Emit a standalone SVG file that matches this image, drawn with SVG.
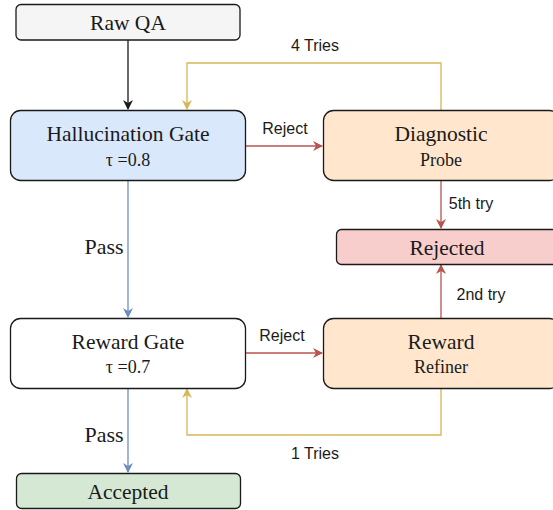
<svg xmlns="http://www.w3.org/2000/svg" width="553" height="510" viewBox="0 0 553 510">
  <defs>
    <style>
      .node { stroke: #1a1a1a; stroke-width: 1.3; }
      .t1 { font-family: "Liberation Serif", serif; font-size: 21.5px; fill: #1a1a1a; text-anchor: middle; }
      .t2 { font-family: "Liberation Serif", serif; font-size: 18px; fill: #1a1a1a; text-anchor: middle; }
      .lbl { font-family: "Liberation Sans", sans-serif; font-size: 16px; fill: #1a1a1a; text-anchor: middle; }
      .lbls { font-family: "Liberation Serif", serif; font-size: 22px; fill: #1a1a1a; text-anchor: middle; }
      .edge { fill: none; stroke-width: 1.3; }
      .black { stroke: #1a1a1a; }
      .red { stroke: #b85450; }
      .blue { stroke: #6c8ebf; }
      .gold { stroke: #d6b656; }
    </style>
    <marker id="ah-black" viewBox="0 0 10 10" refX="9" refY="5" markerWidth="10" markerHeight="10" markerUnits="userSpaceOnUse" orient="auto">
      <path d="M0,0 L10,5 L0,10 L3,5 Z" fill="#1a1a1a"/>
    </marker>
    <marker id="ah-red" viewBox="0 0 10 10" refX="9" refY="5" markerWidth="10" markerHeight="10" markerUnits="userSpaceOnUse" orient="auto">
      <path d="M0,0 L10,5 L0,10 L3,5 Z" fill="#b85450"/>
    </marker>
    <marker id="ah-blue" viewBox="0 0 10 10" refX="9" refY="5" markerWidth="10" markerHeight="10" markerUnits="userSpaceOnUse" orient="auto">
      <path d="M0,0 L10,5 L0,10 L3,5 Z" fill="#6c8ebf"/>
    </marker>
    <marker id="ah-gold" viewBox="0 0 10 10" refX="9" refY="5" markerWidth="10" markerHeight="10" markerUnits="userSpaceOnUse" orient="auto">
      <path d="M0,0 L10,5 L0,10 L3,5 Z" fill="#d6b656"/>
    </marker>
  </defs>

  <rect width="553" height="510" fill="#ffffff"/>

  <!-- connectors -->
  <g id="connectors">
    <path class="edge black" d="M128,40 V109" marker-end="url(#ah-black)"/>
    <path class="edge gold" d="M441,110 V63 H187 V109" marker-end="url(#ah-gold)"/>
    <text class="lbl" x="315" y="51">4 Tries</text>
    <path class="edge red" d="M246,146 H322" marker-end="url(#ah-red)"/>
    <text class="lbl" x="285" y="134">Reject</text>
    <path class="edge red" d="M441,181 V228" marker-end="url(#ah-red)"/>
    <text class="lbl" x="471" y="209">5th try</text>
    <path class="edge blue" d="M128,181 V317" marker-end="url(#ah-blue)"/>
    <text class="lbls" x="104" y="254">Pass</text>
    <path class="edge red" d="M246,353 H322" marker-end="url(#ah-red)"/>
    <text class="lbl" x="282" y="341">Reject</text>
    <path class="edge red" d="M441,318 V265" marker-end="url(#ah-red)"/>
    <text class="lbl" x="481" y="300">2nd try</text>
    <path class="edge gold" d="M441,388 V435 H187 V389" marker-end="url(#ah-gold)"/>
    <text class="lbl" x="315" y="459">1 Tries</text>
    <path class="edge blue" d="M128,388 V472" marker-end="url(#ah-blue)"/>
    <text class="lbls" x="104" y="442">Pass</text>
  </g>

  <!-- nodes -->
  <g id="raw-qa">
    <rect class="node" x="16" y="4.5" width="224" height="35.5" rx="5" fill="#f5f5f5"/>
    <text class="t1" x="128" y="29.5">Raw QA</text>
  </g>
  <g id="hallucination-gate">
    <rect class="node" x="10.5" y="110.5" width="235" height="70" rx="10" fill="#dae8fc"/>
    <text class="t1" x="128" y="141">Hallucination Gate</text>
    <text class="t2" x="128" y="165.5">τ =0.8</text>
  </g>
  <g id="diagnostic-probe">
    <rect class="node" x="323.5" y="110.5" width="236" height="70" rx="10" fill="#ffe6cc"/>
    <text class="t1" x="441" y="141">Diagnostic</text>
    <text class="t2" x="441" y="165.5">Probe</text>
  </g>
  <g id="rejected">
    <rect class="node" x="336.5" y="229.5" width="224" height="35" rx="5" fill="#f8cecc"/>
    <text class="t1" x="447" y="254.5">Rejected</text>
  </g>
  <g id="reward-gate">
    <rect class="node" x="10.5" y="318.5" width="235" height="70" rx="10" fill="#ffffff"/>
    <text class="t1" x="128" y="348.5">Reward Gate</text>
    <text class="t2" x="128" y="373">τ =0.7</text>
  </g>
  <g id="reward-refiner">
    <rect class="node" x="323.5" y="318.5" width="236" height="70" rx="10" fill="#ffe6cc"/>
    <text class="t1" x="441" y="348.5">Reward</text>
    <text class="t2" x="441" y="373">Refiner</text>
  </g>
  <g id="accepted">
    <rect class="node" x="16.5" y="473.5" width="224" height="35" rx="5" fill="#d5e8d4"/>
    <text class="t1" x="128" y="498.5">Accepted</text>
  </g>
</svg>
